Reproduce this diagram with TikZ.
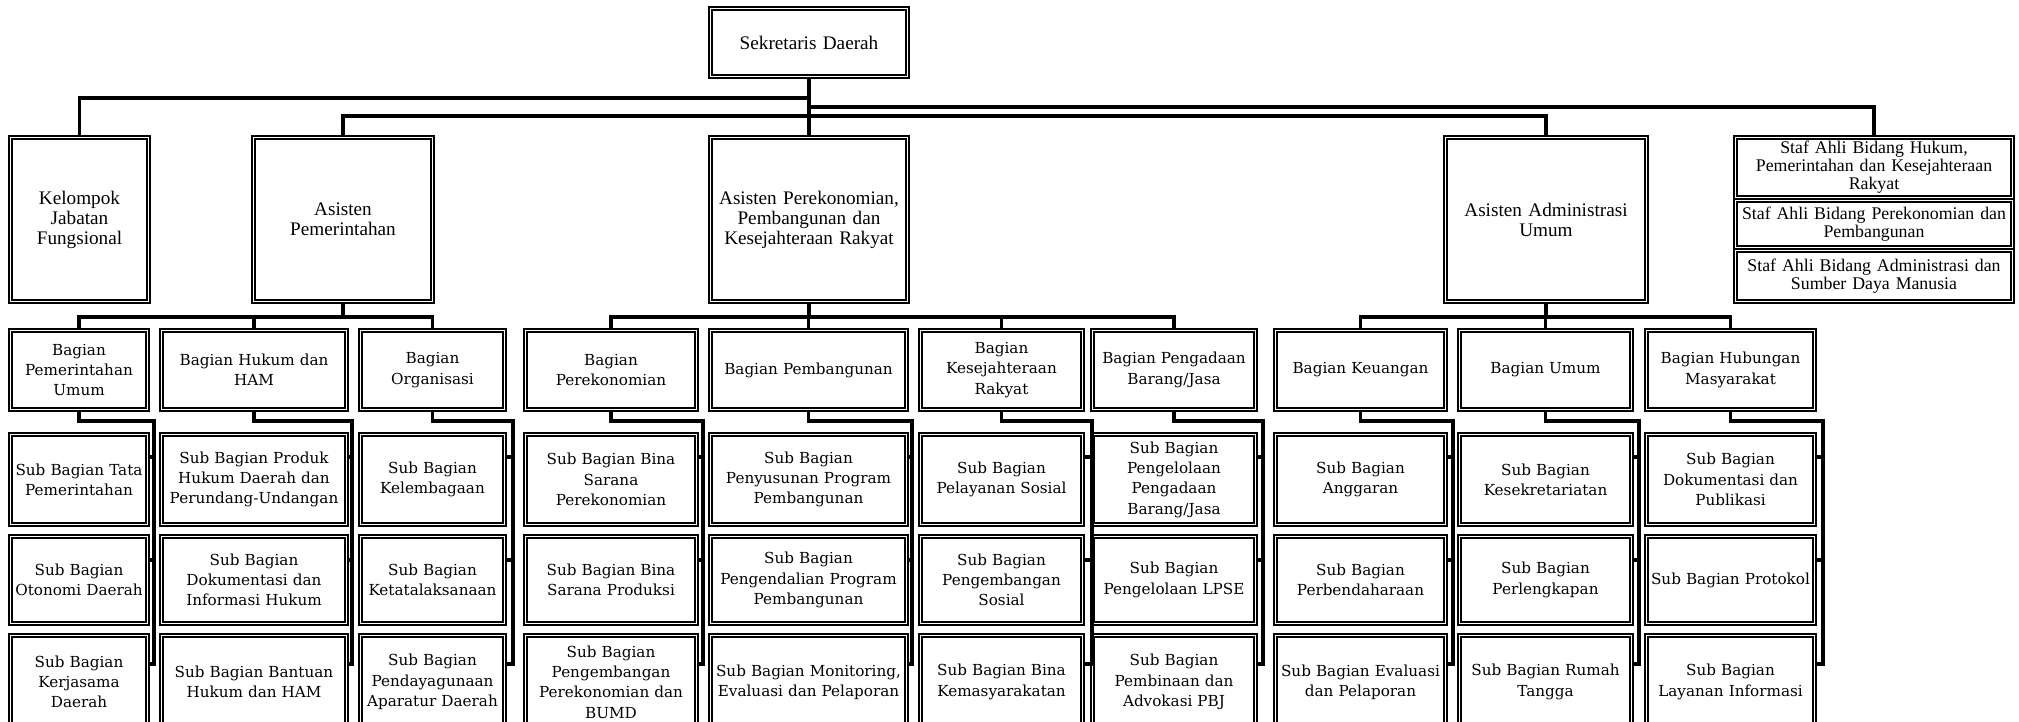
\documentclass[tikz,border=0pt]{standalone}
\usepackage{fontspec}
\setmainfont{Liberation Serif}
\newfontfamily\bkfont{DejaVu Serif}
\usetikzlibrary{calc}

\tikzset{
  dbox/.style={draw, line width=0.6pt, inner xsep=0pt, inner ysep=0pt, align=center,
    path picture={\draw[line width=1.1pt]
      ($(path picture bounding box.south west)+(1.4pt,1.4pt)$) rectangle
      ($(path picture bounding box.north east)+(-1.4pt,-1.4pt)$);}},
  toptxt/.style={font=\fontsize{9.6}{10}\selectfont},
  staftxt/.style={font=\fontsize{8.9}{9}\selectfont},
  lowtxt/.style={font=\bkfont\fontsize{7.6}{10.15}\selectfont},
  conn/.style={line width=1.6pt}
}

\newcommand\bx[7][]{%
  \pgfmathsetmacro\bxcx{(#3+#5)/2}%
  \pgfmathsetmacro\bxcy{(#4+#6)/2}%
  \pgfmathsetmacro\bxw{(#5-#3)*0.5}%
  \pgfmathsetmacro\bxh{(#6-#4)*0.5}%
  \node[dbox,#1,text width=\bxw pt,minimum height=\bxh pt] (#2) at (\bxcx,\bxcy) {#7};}

% bagian, vertical x, sub1, sub2, sub3
\newcommand\subconn[5]{%
  \coordinate (#1v) at (#2,421);
  \coordinate (#1w) at (#2,664);
  \draw[conn] (#1.south) |- (#1v) -- (#1w) -- (#5.east |- #1w);
  \draw[conn] (#1v |- ty1) -- (#3.east |- ty1);
  \draw[conn] (#1v |- ty2) -- (#4.east |- ty2);}

\begin{document}
\begin{tikzpicture}[x=0.5pt,y=-0.5pt]
\useasboundingbox (0,0) rectangle (2019,722);
\fill[white] (0,0) rectangle (2019,722);
\clip (0,0) rectangle (2019,722);

\coordinate (jl) at (0,98);
\coordinate (jm) at (0,107);
\coordinate (jn) at (0,116);
\coordinate (hb) at (0,317);
\coordinate (ty1) at (0,457);
\coordinate (ty2) at (0,560);

% top levels
\bx[toptxt]{sek}{709}{7}{909}{78}{Sekretaris Daerah}
\bx[toptxt]{kel}{9}{136}{150}{303}{Kelompok\\Jabatan\\Fungsional}
\bx[toptxt]{apem}{252}{136}{434}{303}{Asisten\\Pemerintahan}
\bx[toptxt]{aper}{709}{136}{909}{303}{Asisten Perekonomian,\\Pembangunan dan\\Kesejahteraan Rakyat}
\bx[toptxt]{aadm}{1444}{136}{1648}{303}{Asisten Administrasi\\Umum}
\bx[staftxt]{staf1}{1734}{136}{2014}{199}{Staf Ahli Bidang Hukum,\\Pemerintahan dan Kesejahteraan\\Rakyat}
\bx[staftxt]{staf2}{1734}{199}{2014}{249}{Staf Ahli Bidang Perekonomian dan\\Pembangunan}
\bx[staftxt]{staf3}{1734}{249}{2014}{303}{Staf Ahli Bidang Administrasi dan\\Sumber Daya Manusia}

% bagian
\bx[lowtxt]{b1}{9}{329}{149}{411}{Bagian\\Pemerintahan\\Umum}
\bx[lowtxt]{b2}{160}{329}{348}{411}{Bagian Hukum dan\\HAM}
\bx[lowtxt]{b3}{359}{329}{506}{411}{Bagian\\Organisasi}
\bx[lowtxt]{b4}{524}{329}{698}{411}{Bagian\\Perekonomian}
\bx[lowtxt]{b5}{709}{329}{908}{411}{Bagian Pembangunan}
\bx[lowtxt]{b6}{919}{329}{1084}{411}{Bagian\\Kesejahteraan\\Rakyat}
\bx[lowtxt]{b7}{1091}{329}{1257}{411}{Bagian Pengadaan\\Barang/Jasa}
\bx[lowtxt]{b8}{1274}{329}{1447}{411}{Bagian Keuangan}
\bx[lowtxt]{b9}{1458}{329}{1633}{411}{Bagian Umum}
\bx[lowtxt]{b10}{1645}{329}{1816}{411}{Bagian Hubungan\\Masyarakat}

% sub bagian rows: 433-526, 535-625, 634-730
\bx[lowtxt]{s1a}{9}{433}{149}{526}{Sub Bagian Tata\\Pemerintahan}
\bx[lowtxt]{s1b}{9}{535}{149}{625}{Sub Bagian\\Otonomi Daerah}
\bx[lowtxt]{s1c}{9}{634}{149}{730}{Sub Bagian\\Kerjasama\\Daerah}

\bx[lowtxt]{s2a}{160}{433}{348}{526}{Sub Bagian Produk\\Hukum Daerah dan\\Perundang-Undangan}
\bx[lowtxt]{s2b}{160}{535}{348}{625}{Sub Bagian\\Dokumentasi dan\\Informasi Hukum}
\bx[lowtxt]{s2c}{160}{634}{348}{730}{Sub Bagian Bantuan\\Hukum dan HAM}

\bx[lowtxt]{s3a}{359}{433}{506}{526}{Sub Bagian\\Kelembagaan}
\bx[lowtxt]{s3b}{359}{535}{506}{625}{Sub Bagian\\Ketatalaksanaan}
\bx[lowtxt]{s3c}{359}{634}{506}{730}{Sub Bagian\\Pendayagunaan\\Aparatur Daerah}

\bx[lowtxt]{s4a}{524}{433}{698}{526}{Sub Bagian Bina\\Sarana\\Perekonomian}
\bx[lowtxt]{s4b}{524}{535}{698}{625}{Sub Bagian Bina\\Sarana Produksi}
\bx[lowtxt]{s4c}{524}{634}{698}{730}{Sub Bagian\\Pengembangan\\Perekonomian dan\\BUMD}

\bx[lowtxt]{s5a}{709}{433}{908}{526}{Sub Bagian\\Penyusunan Program\\Pembangunan}
\bx[lowtxt]{s5b}{709}{535}{908}{625}{Sub Bagian\\Pengendalian Program\\Pembangunan}
\bx[lowtxt]{s5c}{709}{634}{908}{730}{Sub Bagian Monitoring,\\Evaluasi dan Pelaporan}

\bx[lowtxt]{s6a}{919}{433}{1084}{526}{Sub Bagian\\Pelayanan Sosial}
\bx[lowtxt]{s6b}{919}{535}{1084}{625}{Sub Bagian\\Pengembangan\\Sosial}
\bx[lowtxt]{s6c}{919}{634}{1084}{730}{Sub Bagian Bina\\Kemasyarakatan}

\bx[lowtxt]{s7a}{1091}{433}{1257}{526}{Sub Bagian\\Pengelolaan\\Pengadaan\\Barang/Jasa}
\bx[lowtxt]{s7b}{1091}{535}{1257}{625}{Sub Bagian\\Pengelolaan LPSE}
\bx[lowtxt]{s7c}{1091}{634}{1257}{730}{Sub Bagian\\Pembinaan dan\\Advokasi PBJ}

\bx[lowtxt]{s8a}{1274}{433}{1447}{526}{Sub Bagian\\Anggaran}
\bx[lowtxt]{s8b}{1274}{535}{1447}{625}{Sub Bagian\\Perbendaharaan}
\bx[lowtxt]{s8c}{1274}{634}{1447}{730}{Sub Bagian Evaluasi\\dan Pelaporan}

\bx[lowtxt]{s9a}{1458}{433}{1633}{526}{Sub Bagian\\Kesekretariatan}
\bx[lowtxt]{s9b}{1458}{535}{1633}{625}{Sub Bagian\\Perlengkapan}
\bx[lowtxt]{s9c}{1458}{634}{1633}{730}{Sub Bagian Rumah\\Tangga}

\bx[lowtxt]{s10a}{1645}{433}{1816}{526}{Sub Bagian\\Dokumentasi dan\\Publikasi}
\bx[lowtxt]{s10b}{1645}{535}{1816}{625}{Sub Bagian Protokol}
\bx[lowtxt]{s10c}{1645}{634}{1816}{730}{Sub Bagian\\Layanan Informasi}

% top connectors
\draw[conn] (sek.south) -- (aper.north);
\draw[conn] (sek.south |- jl) -| (kel.north);
\draw[conn] (sek.south |- jm) -| (staf1.north);
\draw[conn] (apem.north) -- (apem.north |- jn) -| (aadm.north);

% asisten to bagian
\draw[conn] (apem.south) -- (apem.south |- hb);
\draw[conn] (b1.north) -- (b1.north |- hb) -| (b3.north);
\draw[conn] (b2.north) -- (b2.north |- hb);

\draw[conn] (aper.south) -- (aper.south |- hb);
\draw[conn] (b4.north) -- (b4.north |- hb) -| (b7.north);
\draw[conn] (b5.north) -- (b5.north |- hb);
\draw[conn] (b6.north) -- (b6.north |- hb);

\draw[conn] (aadm.south) -- (aadm.south |- hb);
\draw[conn] (b8.north) -- (b8.north |- hb) -| (b10.north);
\draw[conn] (b9.north) -- (b9.north |- hb);

% bagian to sub bagian
\subconn{b1}{154}{s1a}{s1b}{s1c}
\subconn{b2}{352}{s2a}{s2b}{s2c}
\subconn{b3}{513}{s3a}{s3b}{s3c}
\subconn{b4}{703}{s4a}{s4b}{s4c}
\subconn{b5}{912}{s5a}{s5b}{s5c}
\subconn{b6}{1092}{s6a}{s6b}{s6c}
\subconn{b7}{1263}{s7a}{s7b}{s7c}
\subconn{b8}{1453}{s8a}{s8b}{s8c}
\subconn{b9}{1639}{s9a}{s9b}{s9c}
\subconn{b10}{1823}{s10a}{s10b}{s10c}
\end{tikzpicture}
\end{document}
